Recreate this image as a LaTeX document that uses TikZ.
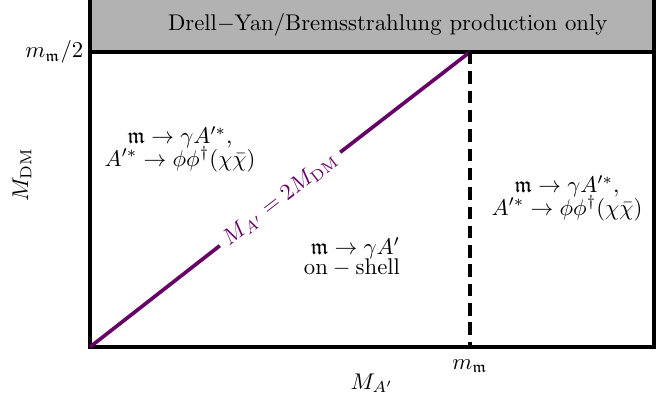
\documentclass[tikz,border=0pt]{standalone}
\usepackage{amsmath,amssymb}
\definecolor{dmpurple}{RGB}{102,0,102}
\begin{document}
\begin{tikzpicture}[x=0.44pt,y=0.44pt,
  frame/.style={line width=1.35pt},
  lbl/.style={inner sep=1pt},
  region/.style={align=center, inner sep=1pt, font=\normalsize}]
\useasboundingbox (0,0) rectangle (665,397);
% coordinates (y flipped: image y -> 397-y)
\coordinate (bl) at (90,50);
\coordinate (br) at (654,50);
\coordinate (tl) at (90,345);
\coordinate (tr) at (654,345);
\coordinate (mtop) at (470,345);
\coordinate (mbot) at (470,50);
% gray band
\fill[black!30] (90,345) rectangle (654,399);
\draw[frame] (90,399) -- (90,345) -- (654,345) -- (654,399);
\node[lbl] (band) at (388,372) {$\mathrm{Drell{-}Yan/Bremsstrahlung~production~only}$};
% frame
\draw[frame] (tl) rectangle (br);
% diagonal
\node[lbl, text=dmpurple, rotate=37.8, inner sep=3pt] (diag) at (280,198) {$M_{A'}=2M_{\mathrm{DM}}$};
\draw[dmpurple, line width=1.6pt] (bl) -- (diag.west);
\draw[dmpurple, line width=1.6pt] (diag.east) -- (mtop);
% dashed
\draw[line width=1.6pt, dash pattern=on 5.5pt off 3pt] (mtop) -- (mbot);
% axis labels
\node[lbl, anchor=east] (yt) at (86,345) {$m_{\mathfrak{m}}/2$};
\node[lbl] (xt) at (470,31) {$m_{\mathfrak{m}}$};
\node[lbl] (xl) at (372,14) {$M_{A'}$};
\node[lbl, rotate=90] (yl) at (22,222) {$M_{\mathrm{DM}}$};
% region labels
\node[region] (left) at (180,248) {$\mathfrak{m}\to\gamma A'^{*},$\\[-2pt]$A'^{*}\to\phi\phi^{\dagger}(\chi\bar\chi)$};
\node[region] (right) at (567,199) {$\mathfrak{m}\to\gamma A'^{*},$\\[-2pt]$A'^{*}\to\phi\phi^{\dagger}(\chi\bar\chi)$};
\node[region, align=right] (mid) at (352,140) {$\mathfrak{m}\to\gamma A'$\\[-3pt]$\mathrm{on-shell}$};
\end{tikzpicture}
\end{document}
